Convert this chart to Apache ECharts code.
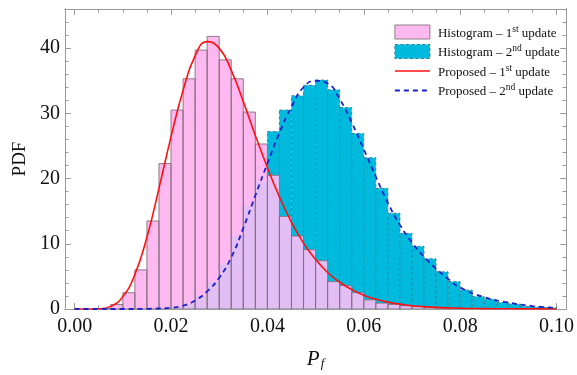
<!DOCTYPE html>
<html><head><meta charset="utf-8">
<script src="https://cdn.jsdelivr.net/npm/echarts@6/dist/echarts.min.js"></script>
<style>html,body{margin:0;padding:0;background:#fff}#c{width:577px;height:375px}</style>
</head><body><div id="c"></div>
<script>
// ---- data ----
const binStarts = [0, 0.0025, 0.005, 0.0075, 0.01, 0.0125, 0.015, 0.0175, 0.02, 0.0225,
  0.025, 0.0275, 0.03, 0.0325, 0.035, 0.0375, 0.04, 0.0425, 0.045, 0.0475,
  0.05, 0.0525, 0.055, 0.0575, 0.06, 0.0625, 0.065, 0.0675, 0.07, 0.0725,
  0.075, 0.0775, 0.08, 0.0825, 0.085, 0.0875, 0.09, 0.0925, 0.095, 0.0975];
const binWidth = 0.0025;
const hist1 = [0, 0, 0.05, 0.7, 2.5, 6.0, 13.5, 22.3, 30.5, 35.3,
  39.7, 41.8, 38.2, 35.3, 30.2, 25.3, 20.5, 14.2, 11.2, 9.1,
  7.4, 4.2, 3.6, 2.5, 1.4, 0.9, 0.7, 0.5, 0.35, 0.25,
  0.18, 0.12, 0.08, 0.05, 0.03, 0.02, 0.01, 0, 0, 0];
const hist2 = [0, 0, 0, 0, 0, 0, 0.02, 0.1, 0.3, 0.8,
  2.0, 4.1, 7.0, 11.2, 15.8, 19.5, 27.2, 30.5, 32.7, 34.3,
  35.1, 33.6, 30.9, 26.9, 23.2, 18.5, 14.7, 11.6, 9.6, 7.7,
  5.7, 4.2, 2.9, 1.9, 1.5, 1.0, 0.76, 0.4, 0.3, 0.2];
const curve1X = [0, 0.0025, 0.005, 0.0075, 0.01, 0.0125, 0.015, 0.0175, 0.02, 0.0225,
  0.025, 0.0275, 0.03, 0.0325, 0.035, 0.0375, 0.04, 0.0425, 0.045, 0.0475,
  0.05, 0.0525, 0.055, 0.0575, 0.06, 0.0625, 0.065, 0.0675, 0.07, 0.075,
  0.08, 0.085, 0.09, 0.095, 0.1];
const curve1Y = [0, 0, 0.03, 0.4, 1.9, 5.3, 11.0, 18.5, 26.4, 33.5,
  38.8, 41.0, 40.0, 36.6, 31.8, 26.6, 21.7, 17.2, 13.3, 10.1,
  7.6, 5.6, 4.1, 3.0, 2.1, 1.5, 1.05, 0.75, 0.5, 0.25,
  0.12, 0.06, 0.03, 0.015, 0.01];
const curve2X = [0, 0.005, 0.01, 0.015, 0.0175, 0.02, 0.0225, 0.025, 0.0275, 0.03,
  0.0325, 0.035, 0.0375, 0.04, 0.0425, 0.045, 0.0475, 0.05, 0.0525, 0.055,
  0.0575, 0.06, 0.0625, 0.065, 0.0675, 0.07, 0.0725, 0.075, 0.0775, 0.08,
  0.085, 0.09, 0.095, 0.1];
const curve2Y = [0, 0, 0, 0.03, 0.08, 0.2, 0.5, 1.3, 2.7, 4.8,
  7.9, 12.4, 17.4, 22.3, 27.0, 31.0, 34.0, 35.0, 34.6, 32.2,
  28.6, 24.5, 20.3, 16.3, 12.9, 10.2, 8.0, 6.2, 4.6, 3.3,
  1.8, 1.0, 0.45, 0.2];
const xMajorTicks = [0, 0.02, 0.04, 0.06, 0.08, 0.1];
const xMinorTicks = [0.005, 0.01, 0.015, 0.025, 0.03, 0.035, 0.045, 0.05, 0.055,
  0.065, 0.07, 0.075, 0.085, 0.09, 0.095];
const yMajorTicks = [0, 10, 20, 30, 40];
const yMinorTicks = [2, 4, 6, 8, 12, 14, 16, 18, 22, 24, 26, 28, 32, 34, 36, 38, 42, 44];
const seriesNames = ['Histogram \u2013 1st update', 'Histogram \u2013 2nd update',
  'Proposed \u2013 1st update', 'Proposed \u2013 2nd update'];

// ---- style ----
const X_MIN = -0.002, X_MAX = 0.102, Y_MIN = 0, Y_MAX = 46;
const FONT = 'Liberation Serif';
const FRAME = '#9a9a9a';
const PINK = '#FFB9F0', CYAN = '#00BADD', LAV = '#E2BEF4';
const PINK_EDGE = '#7d6f7b', CYAN_EDGE = '#2d7f92';
const RED = '#FF1010', BLUE = '#1a22c8';

const chart = echarts.init(document.getElementById('c'), null, {renderer: 'canvas'});

function xAxis(pos, major) {
  return {
    type: 'value', min: X_MIN, max: X_MAX, position: pos, gridIndex: 0,
    axisLine: {show: true, onZero: false, lineStyle: {color: FRAME, width: 1}},
    axisTick: {show: true, inside: true, length: major ? 6 : 3.5,
      customValues: major ? xMajorTicks : xMinorTicks, lineStyle: {color: FRAME, width: 1}},
    axisLabel: {show: major && pos === 'bottom', customValues: xMajorTicks,
      formatter: v => v.toFixed(2), fontFamily: FONT, fontSize: 20, color: '#111', margin: 8},
    splitLine: {show: false},
    name: (major && pos === 'bottom') ? '{p|P}{f|f}' : '',
    nameLocation: 'middle', nameGap: 39,
    nameTextStyle: {rich: {
      p: {fontFamily: FONT, fontStyle: 'italic', fontSize: 21, color: '#111'},
      f: {fontFamily: FONT, fontStyle: 'italic', fontSize: 13, color: '#111', verticalAlign: 'bottom', padding: [9, 0, 0, 1]}
    }}
  };
}
function yAxis(pos, major) {
  return {
    type: 'value', min: Y_MIN, max: Y_MAX, position: pos, gridIndex: 0,
    axisLine: {show: true, onZero: false, lineStyle: {color: FRAME, width: 1}},
    axisTick: {show: true, inside: true, length: major ? 6 : 3.5,
      customValues: major ? yMajorTicks : yMinorTicks, lineStyle: {color: FRAME, width: 1}},
    axisLabel: {show: major && pos === 'left', customValues: yMajorTicks,
      fontFamily: FONT, fontSize: 20, color: '#111', margin: 5},
    splitLine: {show: false},
    name: (major && pos === 'left') ? 'PDF' : '',
    nameLocation: 'middle', nameGap: 33, nameRotate: 90,
    nameTextStyle: {fontFamily: FONT, fontSize: 19, color: '#111'}
  };
}

function histData(a, b) {
  return binStarts.map((s, i) => [s, s + binWidth, a[i], Math.min(a[i], b[i])]).filter(d => d[2] > 0);
}

function renderCyan(params, api) {
  const x0 = api.value(0), x1 = api.value(1), h = api.value(2);
  const p0 = api.coord([x0, 0]), p1 = api.coord([x1, h]);
  return {
    type: 'rect',
    shape: {x: p0[0], y: p1[1], width: p1[0] - p0[0], height: p0[1] - p1[1]},
    style: {fill: CYAN, stroke: CYAN_EDGE, lineWidth: 0.9, lineDash: [3, 2.5]}
  };
}
function renderPink(params, api) {
  const x0 = api.value(0), x1 = api.value(1), h = api.value(2), m = api.value(3);
  const p0 = api.coord([x0, 0]), p1 = api.coord([x1, h]), pm = api.coord([x1, m]);
  const w = p1[0] - p0[0];
  return {
    type: 'group',
    children: [
      {type: 'rect', z2: 0, shape: {x: p0[0], y: p1[1], width: w, height: p0[1] - p1[1]},
        style: {fill: PINK, stroke: null}},
      {type: 'rect', z2: 1, shape: {x: p0[0], y: pm[1], width: w, height: p0[1] - pm[1]},
        style: {fill: LAV, stroke: null}},
      {type: 'rect', z2: 2, shape: {x: p0[0], y: p1[1], width: w, height: p0[1] - p1[1]},
        style: {fill: null, stroke: PINK_EDGE, lineWidth: 0.9}}
    ]
  };
}

const option = {
  backgroundColor: '#fff',
  animation: false,
  grid: {left: 65, top: 9, width: 505, height: 303, containLabel: false},
  xAxis: [xAxis('bottom', true), xAxis('bottom', false), xAxis('top', true), xAxis('top', false)],
  yAxis: [yAxis('left', true), yAxis('left', false), yAxis('right', true), yAxis('right', false)],
  legend: {
    orient: 'vertical', left: 394, top: 24, itemWidth: 35, itemHeight: 14, itemGap: 3.5,
    padding: 0,
    data: [
      {name: seriesNames[0], icon: 'rect', itemStyle: {color: PINK, borderColor: '#8a7f88', borderWidth: 1}},
      {name: seriesNames[1], icon: 'rect', itemStyle: {color: CYAN, borderColor: CYAN_EDGE, borderWidth: 1, borderType: [3, 2.5]}},
      {name: seriesNames[2], itemStyle: {color: 'rgba(0,0,0,0)', borderColor: 'rgba(0,0,0,0)', borderWidth: 0, opacity: 0},
        lineStyle: {color: RED, width: 1.6}},
      {name: seriesNames[3], itemStyle: {color: 'rgba(0,0,0,0)', borderColor: 'rgba(0,0,0,0)', borderWidth: 0, opacity: 0},
        lineStyle: {color: BLUE, width: 1.8, type: [5, 4]}}
    ],
    formatter: function (name) {
      const m = name.match(/^(.*\d)(st|nd)(.*)$/);
      return '{n|' + m[1] + '}{s|' + m[2] + '}{n|' + m[3] + '}';
    },
    textStyle: {fontFamily: FONT, fontSize: 13, color: '#111', padding: [0, 0, 0, 3],
      rich: {
        n: {fontFamily: FONT, fontSize: 13, color: '#111', lineHeight: 16, verticalAlign: 'bottom'},
        s: {fontFamily: FONT, fontSize: 9.5, color: '#111', lineHeight: 9, verticalAlign: 'top'}
      }}
  },
  series: [
    {name: seriesNames[1], type: 'custom', xAxisIndex: 0, yAxisIndex: 0, z: 2,
      itemStyle: {color: CYAN}, encode: {x: [0, 1], y: 2},
      data: histData(hist2, hist1), renderItem: renderCyan, clip: true},
    {name: seriesNames[0], type: 'custom', xAxisIndex: 0, yAxisIndex: 0, z: 3,
      itemStyle: {color: PINK}, encode: {x: [0, 1], y: 2},
      data: histData(hist1, hist2), renderItem: renderPink, clip: true},
    {name: seriesNames[2], type: 'line', xAxisIndex: 0, yAxisIndex: 0, z: 5,
      data: curve1X.map((x, i) => [x, curve1Y[i]]), showSymbol: false, symbol: 'none',
      smooth: 0.5, clip: true,
      lineStyle: {color: RED, width: 1.6}, itemStyle: {color: RED}},
    {name: seriesNames[3], type: 'line', xAxisIndex: 0, yAxisIndex: 0, z: 6,
      data: curve2X.map((x, i) => [x, curve2Y[i]]), showSymbol: false, symbol: 'none',
      smooth: 0.5, clip: true,
      lineStyle: {color: BLUE, width: 1.8, type: [5, 4]}, itemStyle: {color: BLUE}}
  ]
};
chart.setOption(option);
</script>
</body></html>
